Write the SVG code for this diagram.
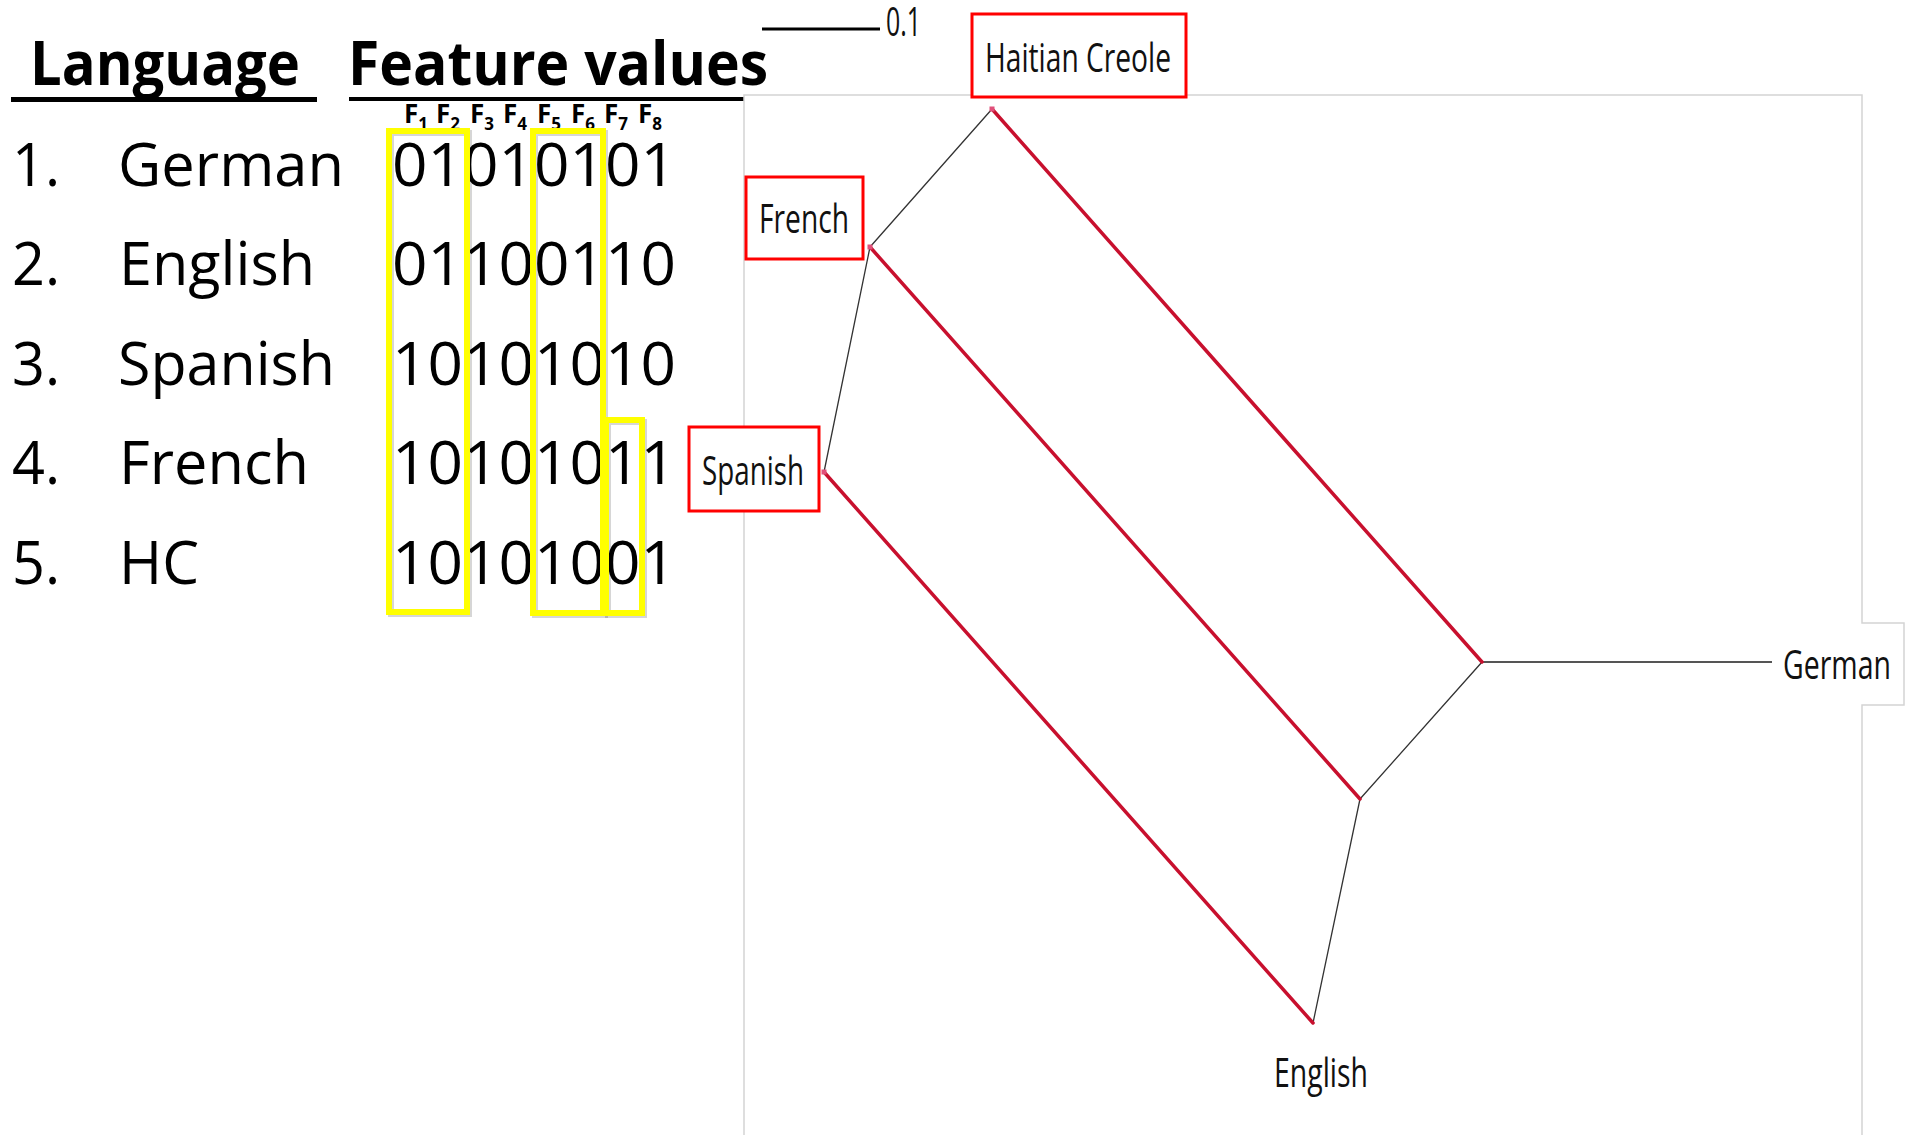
<svg xmlns="http://www.w3.org/2000/svg" width="1910" height="1135" viewBox="0 0 1910 1135">
  <defs>
    <style>
      .sans{font-family:"Open Sans","Liberation Sans",sans-serif;fill:#000}
      .head{font-weight:700;font-size:60px}
      .row{font-size:61px}
      .fh{font-weight:700;font-size:26px}
      .sub{font-size:17px}
      .lbl{font-size:41px;fill:#111}
      .box{fill:#fff;stroke:#f00;stroke-width:3}
      .hl{fill:none;stroke:#ffff00;stroke-width:6}
      .hls{fill:none;stroke:#000;stroke-opacity:.16;stroke-width:6}
      .red{stroke:#c8102e;stroke-width:3.5;stroke-linecap:round}
      .thin{stroke:#333;stroke-width:1.3;stroke-linecap:round}
      .frame{fill:none;stroke:#d4d4d4;stroke-width:1.5}
      .dot{fill:#e0507a}
    </style>
  </defs>
  <rect width="1910" height="1135" fill="#fff"/>

  <!-- Feature table -->
  <g id="table">
    <text class="sans head" x="30" y="85" textLength="270" lengthAdjust="spacingAndGlyphs">Language</text>
    <rect x="11" y="97" width="306" height="5" fill="#000"/>
    <text class="sans head" x="348" y="85" textLength="420" lengthAdjust="spacingAndGlyphs">Feature values</text>
    <rect x="349" y="97" width="395" height="4" fill="#000"/>

    <g class="sans fh">
      <text x="404" y="123">F<tspan class="sub" dy="7">1</tspan></text>
      <text x="436" y="123">F<tspan class="sub" dy="7">2</tspan></text>
      <text x="470" y="123">F<tspan class="sub" dy="7">3</tspan></text>
      <text x="503" y="123">F<tspan class="sub" dy="7">4</tspan></text>
      <text x="537" y="123">F<tspan class="sub" dy="7">5</tspan></text>
      <text x="571" y="123">F<tspan class="sub" dy="7">6</tspan></text>
      <text x="604" y="123">F<tspan class="sub" dy="7">7</tspan></text>
      <text x="638" y="123">F<tspan class="sub" dy="7">8</tspan></text>
    </g>

    <g class="sans row">
      <text x="12" y="186" textLength="48" lengthAdjust="spacingAndGlyphs">1.</text>
      <text x="118" y="186" textLength="226" lengthAdjust="spacingAndGlyphs">German</text>
      <text x="12" y="285" textLength="48" lengthAdjust="spacingAndGlyphs">2.</text>
      <text x="119" y="285" textLength="196" lengthAdjust="spacingAndGlyphs">English</text>
      <text x="12" y="385" textLength="48" lengthAdjust="spacingAndGlyphs">3.</text>
      <text x="118" y="385" textLength="217" lengthAdjust="spacingAndGlyphs">Spanish</text>
      <text x="12" y="484" textLength="48" lengthAdjust="spacingAndGlyphs">4.</text>
      <text x="119" y="484" textLength="190" lengthAdjust="spacingAndGlyphs">French</text>
      <text x="12" y="584" textLength="48" lengthAdjust="spacingAndGlyphs">5.</text>
      <text x="119" y="584" textLength="80" lengthAdjust="spacingAndGlyphs">HC</text>

      <text x="392" y="186" textLength="284" lengthAdjust="spacingAndGlyphs">01010101</text>
      <text x="392" y="285" textLength="284" lengthAdjust="spacingAndGlyphs">01100110</text>
      <text x="392" y="385" textLength="284" lengthAdjust="spacingAndGlyphs">10101010</text>
      <text x="392" y="484" textLength="284" lengthAdjust="spacingAndGlyphs">10101011</text>
      <text x="392" y="584" textLength="284" lengthAdjust="spacingAndGlyphs">10101001</text>
    </g>

    <!-- highlighted columns -->
    <g transform="translate(2,2)">
      <rect class="hls" x="389" y="131" width="78" height="481"/>
      <rect class="hls" x="533" y="131" width="70" height="482"/>
      <rect class="hls" x="606" y="420" width="36" height="193"/>
    </g>
    <rect class="hl" x="389" y="131" width="78" height="481"/>
    <rect class="hl" x="533" y="131" width="70" height="482"/>
    <rect class="hl" x="606" y="420" width="36" height="193"/>
  </g>

  <!-- Network panel frame -->
  <path class="frame" d="M744,1135 V95 H1862 V623 H1904 V705 H1862 V1135"/>

  <!-- Scale bar -->
  <g id="scale">
    <line x1="762" y1="29" x2="880" y2="29" stroke="#000" stroke-width="3"/>
    <text class="sans lbl" x="886" y="36" font-size="30" textLength="35" lengthAdjust="spacingAndGlyphs">0.1</text>
  </g>

  <!-- Network edges -->
  <g id="connectors">
    <line class="thin" x1="992" y1="109" x2="870" y2="247"/>
    <line class="thin" x1="870" y1="247" x2="824" y2="472"/>
    <line class="thin" x1="1482" y1="662" x2="1360" y2="799"/>
    <line class="thin" x1="1360" y1="799" x2="1313" y2="1023"/>
    <line x1="1482" y1="662" x2="1772" y2="662" stroke="#555" stroke-width="2"/>
    <line class="red" x1="992" y1="109" x2="1482" y2="662"/>
    <line class="red" x1="870" y1="247" x2="1360" y2="799"/>
    <line class="red" x1="824" y1="472" x2="1313" y2="1023"/>
    <rect class="dot" x="989.5" y="106.5" width="5" height="5"/>
    <rect class="dot" x="867.5" y="244.5" width="5" height="5"/>
    <rect class="dot" x="821.5" y="469.5" width="5" height="5"/>
  </g>

  <!-- Taxa -->
  <g id="node-hc">
    <rect class="box" x="972" y="14" width="214" height="83"/>
    <text class="sans lbl" x="985" y="72" textLength="186" lengthAdjust="spacingAndGlyphs">Haitian Creole</text>
  </g>
  <g id="node-french">
    <rect class="box" x="746" y="177" width="117" height="82"/>
    <text class="sans lbl" x="759" y="233" textLength="90" lengthAdjust="spacingAndGlyphs">French</text>
  </g>
  <g id="node-spanish">
    <rect class="box" x="689" y="427" width="130" height="84"/>
    <text class="sans lbl" x="702" y="485" textLength="102" lengthAdjust="spacingAndGlyphs">Spanish</text>
  </g>
  <g id="node-german">
    <text class="sans lbl" x="1783" y="679" textLength="108" lengthAdjust="spacingAndGlyphs">German</text>
  </g>
  <g id="node-english">
    <text class="sans lbl" x="1274" y="1087" textLength="94" lengthAdjust="spacingAndGlyphs">English</text>
  </g>
</svg>
